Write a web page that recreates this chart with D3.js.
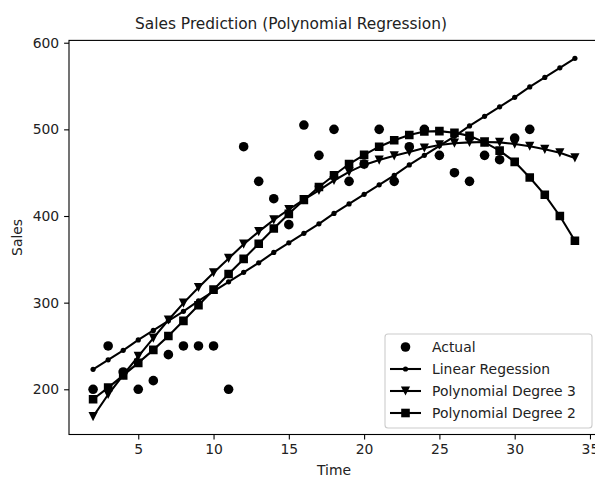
<!DOCTYPE html>
<html><head><meta charset="utf-8">
<script src="https://cdn.jsdelivr.net/npm/d3@7"></script>
<style>body{margin:0;background:#fff}svg{display:block}text{font-family:"DejaVu Sans",sans-serif;fill:#222}</style>
</head><body><svg id="c" width="595" height="478"></svg>
<script>
const actualX = [2,3,4,5,6,7,8,9,10,11,12,13,14,15,16,17,18,19,20,21,22,23,24,25,26,27,28,29,30,31];
const actualY = [200,250,220,200,210,240,250,250,250,200,480,440,420,390,505,470,500,440,460,500,440,480,500,470,450,440,470,465,490,500];
const predX = [2,3,4,5,6,7,8,9,10,11,12,13,14,15,16,17,18,19,20,21,22,23,24,25,26,27,28,29,30,31,32,33,34];
const linearY = [223,234,245,257,268,279,290,302,313,324,335,346,358,369,380,391,403,414,425,436,447,459,470,481,492,504,515,526,537,549,560,571,582];
const poly3Y = [168.5,194,216.5,238,259,280,299.5,317.5,334.5,351,367.5,382,395.5,407.5,419,429.5,441,451,459,464.5,469.5,474,478.5,482,484,485,485.5,485,483,480.5,477,473,467];
const poly2Y = [188.5,202,216,230.5,245.5,261.5,279,297,315,333,350.5,368,385.5,402.5,418.5,433.5,447,460,470.5,480,487.5,493.5,497.5,498,496,492.5,485,475.5,462.5,444.5,424.5,400,371.5];
const xTicks = [5,10,15,20,25,30,35];
const yTicks = [200,300,400,500,600];
const legendLabels = ["Actual","Linear Regession","Polynomial Degree 3","Polynomial Degree 2"];
const titleText = "Sales Prediction (Polynomial Regression)";

const L = 69, R = 599, T = 40.4, B = 434.5;
const svg = d3.select("#c");

const allX = actualX.concat(predX);
const allY = actualY.concat(linearY, poly3Y, poly2Y);
const [x0, x1] = d3.extent(allX), [y0, y1] = d3.extent(allY);
const px = (x1 - x0) * 0.05, py = (y1 - y0) * 0.05;
const x = d3.scaleLinear().domain([x0 - px, x1 + px]).range([L, R]);
const y = d3.scaleLinear().domain([y0 - py, y1 + py]).range([B, T]);

// frame
svg.append("rect").attr("x", L).attr("y", T).attr("width", R - L).attr("height", B - T)
  .attr("fill", "none").attr("stroke", "#000").attr("stroke-width", 1.1);

const fs = 13.9;
const xa = svg.append("g").attr("transform", `translate(0,${B})`)
  .call(d3.axisBottom(x).tickValues(xTicks).tickSize(4.9).tickPadding(4.9).tickFormat(d3.format("d")));
const ya = svg.append("g").attr("transform", `translate(${L},0)`)
  .call(d3.axisLeft(y).tickValues(yTicks).tickSize(4.9).tickPadding(4.9).tickFormat(d3.format("d")));
[xa, ya].forEach(g => {
  g.select(".domain").remove();
  g.selectAll("line").attr("stroke", "#000").attr("stroke-width", 1.1);
  g.selectAll("text").attr("font-size", fs).attr("font-family", "DejaVu Sans").attr("fill", "#222");
});

// title and labels
svg.append("text").attr("x", 291).attr("y", 29).attr("text-anchor", "middle")
  .attr("font-size", 15.4).text(titleText);
svg.append("text").attr("x", (L + R) / 2).attr("y", 475).attr("text-anchor", "middle")
  .attr("font-size", fs).text("Time");
svg.append("text").attr("transform", `translate(22,${(T + B) / 2}) rotate(-90)`).attr("text-anchor", "middle")
  .attr("font-size", fs).text("Sales");

const clip = svg.append("defs").append("clipPath").attr("id", "pc")
  .append("rect").attr("x", L).attr("y", T).attr("width", R - L).attr("height", B - T);
const plot = svg.append("g").attr("clip-path", "url(#pc)");

// markers
const tri = r => `M${-r},${-r}L${r},${-r}L0,${r}Z`;
const sq = r => `M${-r},${-r}H${r}V${r}H${-r}Z`;

function drawSeries(g, ys, marker) {
  const line = d3.line().x((d, i) => x(predX[i])).y(d => y(d));
  g.append("path").datum(ys).attr("d", line).attr("fill", "none").attr("stroke", "#000").attr("stroke-width", 2.08);
  g.selectAll(null).data(ys).enter().append("path")
    .attr("transform", (d, i) => `translate(${x(predX[i])},${y(d)})`)
    .attr("d", marker).attr("fill", "#000");
}
const mDot = d3.symbol(d3.symbolCircle, Math.PI * 2.6 * 2.6)();
const mTri = tri(4.6);
const mSq = sq(4.3);

drawSeries(plot, linearY, mDot);
drawSeries(plot, poly3Y, mTri);
drawSeries(plot, poly2Y, mSq);

plot.selectAll(null).data(actualY).enter().append("circle")
  .attr("cx", (d, i) => x(actualX[i])).attr("cy", d => y(d)).attr("r", 4.8).attr("fill", "#000");

// legend
const lg = svg.append("g");
lg.append("rect").attr("x", 385).attr("y", 334).attr("width", 207).attr("height", 94).attr("rx", 3)
  .attr("fill", "#fff").attr("fill-opacity", 0.8).attr("stroke", "#ccc").attr("stroke-width", 1.1);
const ly = [347, 369, 391, 413];
const lm = [null, mDot, mTri, mSq];
legendLabels.forEach((lab, i) => {
  if (i === 0) {
    lg.append("circle").attr("cx", 405.5).attr("cy", ly[i]).attr("r", 4.8).attr("fill", "#000");
  } else {
    lg.append("line").attr("x1", 390).attr("x2", 421).attr("y1", ly[i]).attr("y2", ly[i])
      .attr("stroke", "#000").attr("stroke-width", 2.08);
    lg.append("path").attr("transform", `translate(405.5,${ly[i]})`).attr("d", lm[i]).attr("fill", "#000");
  }
  lg.append("text").attr("x", 432).attr("y", ly[i]).attr("dy", "0.36em").attr("font-size", fs).text(lab);
});
</script></body></html>
